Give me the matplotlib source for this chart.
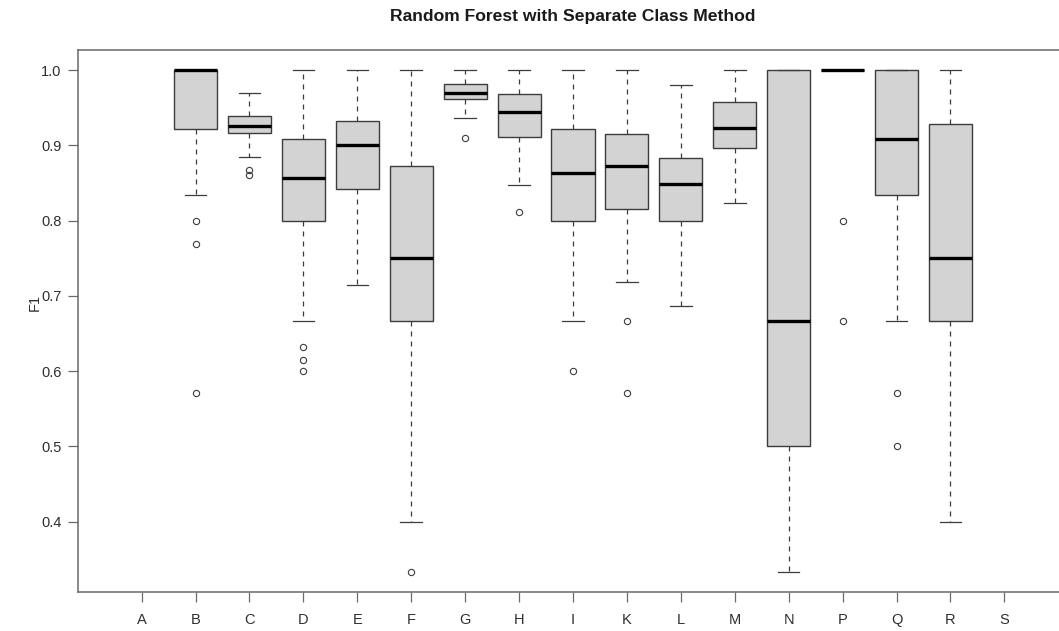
import matplotlib
matplotlib.use("Agg")
import matplotlib.pyplot as plt

plt.rcParams["font.family"] = ["Liberation Sans", "DejaVu Sans"]

# Class labels along the x axis (A and S have no scores)
categories = ["A", "B", "C", "D", "E", "F", "G", "H", "I",
              "K", "L", "M", "N", "P", "Q", "R", "S"]

# Five-number summaries of the F1 scores per class (None = no data)
q1 = [None, 0.922, 0.916, 0.800, 0.842, 0.667, 0.961, 0.911, 0.800,
      0.816, 0.800, 0.896, 0.500, 1.000, 0.834, 0.667, None]
medians = [None, 1.000, 0.926, 0.857, 0.900, 0.750, 0.970, 0.944, 0.863,
           0.873, 0.849, 0.923, 0.667, 1.000, 0.909, 0.750, None]
q3 = [None, 1.000, 0.939, 0.909, 0.933, 0.873, 0.982, 0.968, 0.922,
      0.915, 0.883, 0.957, 1.000, 1.000, 1.000, 0.928, None]
whisker_low = [None, 0.834, 0.884, 0.667, 0.714, 0.400, 0.936, 0.848, 0.667,
               0.719, 0.687, 0.824, 0.333, 1.000, 0.667, 0.400, None]
whisker_high = [None, 1.000, 0.969, 1.000, 1.000, 1.000, 1.000, 1.000, 1.000,
                1.000, 0.980, 1.000, 1.000, 1.000, 1.000, 1.000, None]
outliers = [[], [0.800, 0.769, 0.571], [0.867, 0.8605], [0.632, 0.615, 0.600],
            [], [0.333], [0.910], [0.812], [0.600], [0.667, 0.571], [], [],
            [], [0.800, 0.667], [0.571, 0.500], [], []]

yticks = [0.4, 0.5, 0.6, 0.7, 0.8, 0.9, 1.0]

W, H = 1059, 631
fig = plt.figure(figsize=(W / 100, H / 100), dpi=100)
# plot region runs a little past the right edge of the canvas
ax = fig.add_axes([78 / W, 39 / H, 990 / W, 542 / H])

stats, positions = [], []
for i, lab in enumerate(categories):
    if medians[i] is None:
        continue
    stats.append(dict(label=lab, med=medians[i], q1=q1[i], q3=q3[i],
                      whislo=whisker_low[i], whishi=whisker_high[i],
                      fliers=outliers[i]))
    positions.append(i + 1)

edge = "#3c3c3c"
ax.bxp(stats, positions=positions, widths=0.8, capwidths=0.4,
       patch_artist=True, manage_ticks=False,
       boxprops=dict(facecolor="#d3d3d3", edgecolor=edge, linewidth=1.0),
       medianprops=dict(color="black", linewidth=2.4, solid_capstyle="butt"),
       whiskerprops=dict(color=edge, linewidth=0.9, linestyle=(0, (4, 4))),
       capprops=dict(color=edge, linewidth=0.9),
       flierprops=dict(marker="o", markerfacecolor="none",
                       markeredgecolor=edge, markersize=4.5,
                       markeredgewidth=0.8, linestyle="none"))

ax.set_xlim(-0.18, 18.18)
ax.set_ylim(0.3067, 1.0267)

ax.set_xticks(range(1, len(categories) + 1))
ax.set_xticklabels(categories)
ax.set_yticks(yticks)
ax.set_yticklabels([f"{v:.1f}" for v in yticks])

frame = "#6a6a6a"
for s in ax.spines.values():
    s.set_color(frame)
    s.set_linewidth(1.1)
ax.tick_params(axis="both", colors=frame, labelcolor="#2e2e2e",
               labelsize=10.5, length=7, width=0.9, direction="out")
ax.tick_params(axis="x", pad=8)
ax.tick_params(axis="y", pad=5)

fig.text(35 / W, 1 - 302 / H, "F1", rotation=90, ha="center", va="center",
         fontsize=10.5, color="#2e2e2e")
fig.text(573 / W, 1 - 16 / H, "Random Forest with Separate Class Method",
         ha="center", va="center", fontsize=12.6, fontweight="bold",
         color="#1a1a1a")

fig.savefig("out.png", dpi=100)
